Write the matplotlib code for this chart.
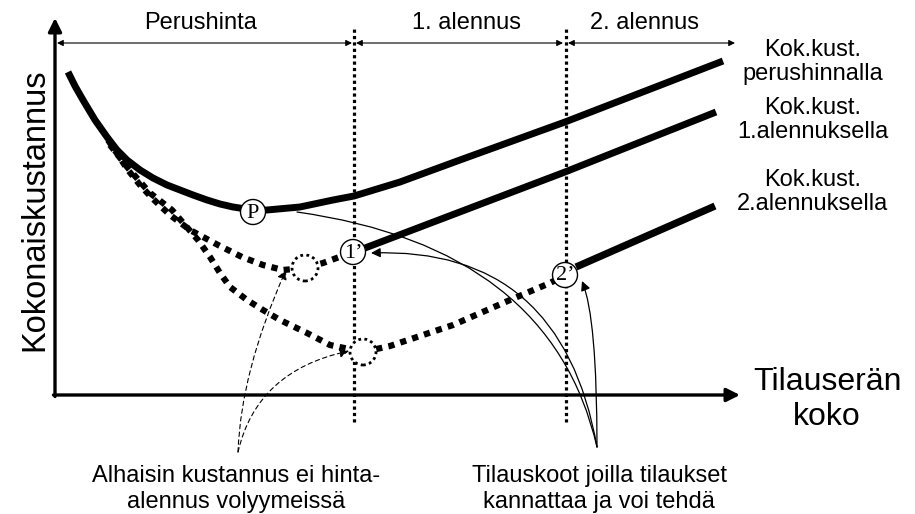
import matplotlib
matplotlib.use('Agg')
import matplotlib.pyplot as plt
from matplotlib.patches import Circle

plt.rcParams['font.family'] = ['Liberation Sans', 'DejaVu Sans']

# x = tilauserän koko, y = kokonaiskustannus (luettu kuvasta)
base_x = [13, 20, 28, 40, 52, 62, 72, 85, 98, 112, 125, 138, 152, 165, 178, 198,
          212, 245, 278, 299, 345, 405, 510, 668]
base_y = [323, 309, 295, 275, 258, 245, 235, 225, 217, 210, 205, 200, 195, 191, 188, 185,
          185, 188, 195, 199, 213, 235, 273, 334]

disc1_dot_x = [53, 63, 73, 85, 97, 115, 135, 150, 163, 187, 208, 228, 250, 268, 298]
disc1_dot_y = [255, 240, 225, 210, 197, 180, 165, 157, 150, 138, 130, 125, 127, 132, 143]
disc1_x = [310, 510, 661]
disc1_y = [147, 223, 283]

disc2_dot_x = [55, 73, 95, 117, 130, 143, 155, 165, 175, 192, 208, 225, 252, 275, 308,
               335, 398, 455, 495, 510]
disc2_dot_y = [250, 227, 202, 185, 170, 155, 138, 122, 108, 95, 85, 75, 62, 50, 43,
               49, 70, 95, 112, 120]
disc2_x = [521, 660]
disc2_y = [128, 189]

breaks = [299, 511]
x_end = 685
y_end = 377

# pisteet: P, 1', 2' ja hintajoustamattomat minimit
points = {'P': (198, 183), '1’': (298, 143), '2’': (510, 120)}
minima = [(250, 127), (308, 43)]

zone_labels = ['Perushinta', '1. alennus', '2. alennus']
zone_x = [146, 411, 590]
zone_edges = [(2, 297), (301, 508), (513, 680)]

curve_labels = ['Kok.kust.\nperushinnalla', 'Kok.kust.\n1.alennuksella', 'Kok.kust.\n2.alennuksella']
curve_label_top = [356, 298, 226]

fs = 17

fig = plt.figure(figsize=(9.15, 5.14), dpi=100)
ax = fig.add_axes([0, 0, 1, 1])
ax.set_xlim(-55, 860)
ax.set_ylim(-119, 395)
ax.axis('off')

# akselit
ax.annotate('', xy=(0, y_end), xytext=(0, -1.5),
            arrowprops=dict(arrowstyle='-|>', lw=2.4, color='black', mutation_scale=20, shrinkA=0, shrinkB=0))
ax.annotate('', xy=(x_end, 0), xytext=(-1.5, 0),
            arrowprops=dict(arrowstyle='-|>', lw=2.4, color='black', mutation_scale=20, shrinkA=0, shrinkB=0))
ax.text(-20, 185, 'Kokonaiskustannus', rotation=90, ha='center', va='center', fontsize=23.5)
ax.text(772, 5, 'Tilauserän', ha='center', va='baseline', fontsize=23)
ax.text(772, -30, 'koko', ha='center', va='baseline', fontsize=23)

# alennusrajat
for b in breaks:
    ax.plot([b, b], [-27, 368], color='black', lw=2.3, linestyle=(0, (1, 1)))

for (a, b), lab, xl in zip(zone_edges, zone_labels, zone_x):
    ax.annotate('', xy=(b, 352), xytext=(a, 352),
                arrowprops=dict(arrowstyle='<|-|>', lw=0.8, color='black', mutation_scale=9, shrinkA=0, shrinkB=0))
    ax.text(xl, 366, lab, ha='center', va='baseline', fontsize=fs)

# käyrät
ax.plot(base_x, base_y, color='black', lw=5, solid_capstyle='butt', solid_joinstyle='round', zorder=3)
ax.plot(disc1_dot_x, disc1_dot_y, color='black', lw=4.5, linestyle=(0, (1, 1)), zorder=3)
ax.plot(disc1_x, disc1_y, color='black', lw=5, solid_capstyle='butt', zorder=3)
ax.plot(disc2_dot_x, disc2_dot_y, color='black', lw=4.5, linestyle=(0, (1, 1)), zorder=3)
ax.plot(disc2_x, disc2_y, color='black', lw=5.2, solid_capstyle='butt', zorder=3)

for lab, top in zip(curve_labels, curve_label_top):
    ax.text(758, top, lab, ha='center', va='top', fontsize=fs, linespacing=1.1)

for lab, (cx, cy) in points.items():
    ax.add_patch(Circle((cx, cy), 12.5, facecolor='white', edgecolor='black', lw=1, zorder=5))
    ax.text(cx, cy - 1, lab, ha='center', va='center', fontsize=16, family='Liberation Serif', zorder=6)

for cx, cy in minima:
    ax.add_patch(Circle((cx, cy), 13, facecolor='white', edgecolor='black', lw=2, linestyle=(0, (1, 1.2)), zorder=5))

# selitysnuolet
ax.annotate('', xy=(242, 183), xytext=(542, -52),
            arrowprops=dict(arrowstyle='-', lw=0.9, color='black', shrinkA=0, shrinkB=0,
                            connectionstyle='angle3,angleA=103,angleB=172'), zorder=2)
ax.annotate('', xy=(316, 142), xytext=(542, -52),
            arrowprops=dict(arrowstyle='-|>', lw=0.9, color='black', mutation_scale=14, shrinkA=0, shrinkB=0,
                            connectionstyle='angle3,angleA=100,angleB=2'), zorder=6)
ax.annotate('', xy=(527, 114), xytext=(542, -52),
            arrowprops=dict(arrowstyle='-|>', lw=0.9, color='black', mutation_scale=14, shrinkA=0, shrinkB=0,
                            connectionstyle='angle3,angleA=90,angleB=112'), zorder=6)
ax.annotate('', xy=(231, 125), xytext=(183, -57),
            arrowprops=dict(arrowstyle='-|>', lw=0.8, color='black', linestyle=(0, (4, 3)), mutation_scale=14,
                            shrinkA=0, shrinkB=0, connectionstyle='angle3,angleA=88,angleB=66'), zorder=6)
ax.annotate('', xy=(294, 44), xytext=(183, -57),
            arrowprops=dict(arrowstyle='-|>', lw=0.8, color='black', linestyle=(0, (4, 3)), mutation_scale=14,
                            shrinkA=0, shrinkB=0, connectionstyle='angle3,angleA=77,angleB=12'), zorder=6)

ax.text(181, -87, 'Alhaisin kustannus ei hinta-', ha='center', va='baseline', fontsize=fs)
ax.text(181, -113, 'alennus volyymeissä', ha='center', va='baseline', fontsize=fs)
ax.text(544, -87, 'Tilauskoot joilla tilaukset', ha='center', va='baseline', fontsize=fs)
ax.text(544, -113, 'kannattaa ja voi tehdä', ha='center', va='baseline', fontsize=fs)

fig.savefig('out.png', dpi=100)
